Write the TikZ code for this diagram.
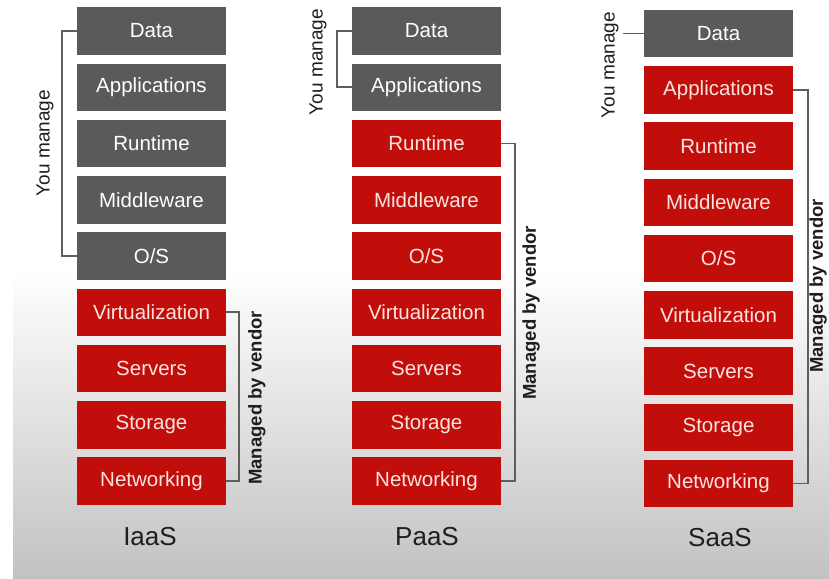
\documentclass[tikz,border=0pt]{standalone}
\usepackage{fontspec}
\setmainfont{Liberation Sans}
\definecolor{boxgray}{HTML}{5A5A5A}
\definecolor{boxred}{HTML}{C20E0A}
\definecolor{textpink}{HTML}{FBE4E0}
\definecolor{brkgray}{HTML}{5E5E5E}
\definecolor{labeldark}{HTML}{1E1E1E}
\definecolor{bggray}{HTML}{C2C2C2}
\begin{document}
\begin{tikzpicture}[x=1pt,y=-1pt,
  layer/.style={minimum width=149pt, minimum height=47.5pt, inner sep=0pt,
    font=\fontsize{20.5}{24}\selectfont, text=white},
  gbox/.style={layer, fill=boxgray},
  rbox/.style={layer, fill=boxred, text=textpink},
  brk/.style={draw=brkgray, line width=1.6pt},
  side/.style={rotate=90, inner sep=0pt, font=\fontsize{19}{22}\selectfont, text=labeldark},
  vside/.style={side, font=\fontsize{18.5}{22}\selectfont\bfseries},
  title/.style={inner sep=0pt, font=\fontsize{26}{30}\selectfont, text=labeldark}]
\useasboundingbox (0,0) rectangle (829,578);
\fill[white] (0,0) rectangle (829,578);
\shade[top color=white, bottom color=bggray] (13,270) rectangle (829,578);
\foreach \t [count=\k] in {Data,Applications,Runtime,Middleware,O/S,Virtualization,Servers,Storage,Networking} {
  \pgfmathsetmacro\yy{31+56.25*(\k-1)}
  \ifnum\k<6 \def\sa{gbox}\else\def\sa{rbox}\fi
  \ifnum\k<3 \def\sb{gbox}\else\def\sb{rbox}\fi
  \ifnum\k<2 \def\sc{gbox}\else\def\sc{rbox}\fi
  \node[\sa] (i\k) at (151.5,\yy) {\t};
  \node[\sb] (p\k) at (426.5,\yy) {\t};
  \node[\sc] (s\k) at (718.5,\yy+2.5) {\t};
}
% titles
\node[title] (ti) at (150,537) {IaaS};
\node[title] (tp) at (427,537) {PaaS};
\node[title] (ts) at (720,538) {SaaS};
% IaaS brackets
\draw[brk] (i1.west) -- ++(-15,0) |- (i5.west);
\draw[brk] (i6.east) -- ++(13,0) |- (i9.east);
\node[side] (iy) at (45,143) {You manage};
\node[vside] (iv) at (257,398) {Managed by vendor};
% PaaS brackets
\draw[brk] (p1.west) -- ++(-15,0) |- (p2.west);
\draw[brk] (p3.east) -- ++(14,0) |- (p9.east);
\node[side] (py) at (318,62) {You manage};
\node[vside] (pv) at (531,313) {Managed by vendor};
% SaaS brackets
\coordinate (sy0) at (623,33.5);
\draw[brk] (s1.west) -- (sy0);
\draw[brk] (s2.east) -- ++(15,0) |- (s9.east);
\node[side] (sy) at (610,65) {You manage};
\node[vside] (sv) at (818,286) {Managed by vendor};
\end{tikzpicture}
\end{document}
